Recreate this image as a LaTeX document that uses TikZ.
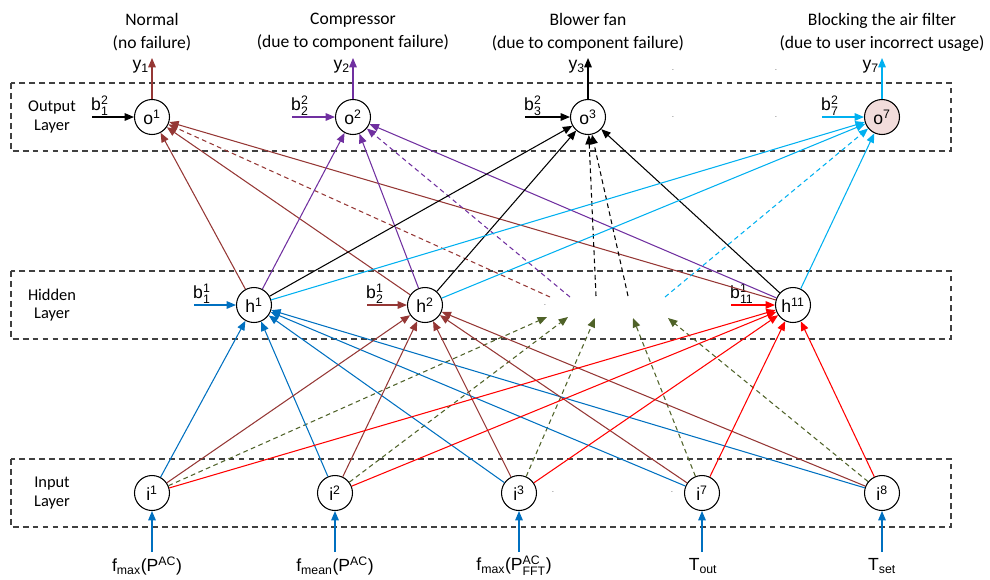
\documentclass[tikz,border=0pt]{standalone}
\usepackage{amsmath}
\usepackage{fontspec}
\setmainfont{Liberation Sans}
\newfontfamily\calibfont{Carlito}
\usetikzlibrary{arrows.meta}

\definecolor{inblue}{RGB}{0,112,192}
\definecolor{brn}{RGB}{149,55,53}
\definecolor{purp}{RGB}{112,48,160}
\definecolor{cyn}{RGB}{0,176,240}
\definecolor{dgreen}{RGB}{79,98,40}
\definecolor{pinkfill}{RGB}{242,220,219}

\begin{document}
\begin{tikzpicture}[x=0.03cm, y=-0.03cm,
  neuron/.style={draw, circle, line width=0.9pt, minimum size=1.05cm, inner sep=0pt, font=\fontsize{15}{18}\selectfont},
  layerbox/.style={draw=black!75, dash pattern=on 5pt off 3.5pt, line width=0.9pt},
  conn/.style={line width=0.9pt, -{Triangle[length=8pt,width=6.5pt]}},
  ghost/.style={conn, dash pattern=on 4pt off 3pt},
  lbl/.style={inner sep=0pt, font=\fontsize{15}{18}\selectfont},
  title/.style={align=center, inner sep=0pt, font=\calibfont\fontsize{15}{19.5}\selectfont},
  layertext/.style={align=center, inner sep=0pt, font=\calibfont\fontsize{14}{16}\selectfont},
  dotmark/.style={inner sep=0pt, text=black!60, font=\fontsize{7}{7}\selectfont}]
  \useasboundingbox (0,0) rectangle (990,579);

  \draw[layerbox] (11,83) rectangle (951,151);
  \draw[layerbox] (11,271) rectangle (951,339);
  \draw[layerbox] (11,459) rectangle (951,527);

  \node[layertext] (lout) at (52,117) {Output\\Layer};
  \node[layertext] (lhid) at (52,305) {Hidden\\Layer};
  \node[layertext] (lin) at (52,493) {Input\\Layer};

  \node[title] (t1) at (152,32) {Normal\\(no failure)};
  \node[title] (t2) at (353,32) {Compressor\\(due to component failure)};
  \node[title] (t3) at (588,32) {Blower fan\\(due to component failure)};
  \node[title] (t7) at (882,32) {Blocking the air filter\\(due to user incorrect usage)};

  \node[neuron] (o1) at (152,117) {o\textsuperscript{1}};
  \node[neuron] (o2) at (353,117) {o\textsuperscript{2}};
  \node[neuron] (o3) at (588,117) {o\textsuperscript{3}};
  \node[neuron, fill=pinkfill] (o7) at (882,117) {o\textsuperscript{7}};

  \node[neuron] (h1) at (254,305) {h\textsuperscript{1}};
  \node[neuron] (h2) at (425,305) {h\textsuperscript{2}};
  \node[neuron] (h11) at (793,305) {h\textsuperscript{11}};

  \node[neuron] (i1) at (152,493) {i\textsuperscript{1}};
  \node[neuron] (i2) at (335,493) {i\textsuperscript{2}};
  \node[neuron] (i3) at (519,493) {i\textsuperscript{3}};
  \node[neuron] (i7) at (702,493) {i\textsuperscript{7}};
  \node[neuron] (i8) at (882,493) {i\textsuperscript{8}};

  \node[dotmark] at (673,70) {.};
  \node[dotmark] at (776,70) {.};
  \node[dotmark] at (673,117) {.};
  \node[dotmark] at (776,117) {.};
  \node[dotmark] at (545,305) {.};
  \node[dotmark] at (553,492) {.};
  \node[dotmark] at (672,492) {.};

  % outputs
  \coordinate (y1) at (152,58);
  \coordinate (y2) at (353,58);
  \coordinate (y3) at (588,58);
  \coordinate (y7) at (882,58);
  \draw[conn, brn] (o1) -- (y1);
  \draw[conn, purp] (o2) -- (y2);
  \draw[conn] (o3) -- (y3);
  \draw[conn, cyn] (o7) -- (y7);
  \node[lbl, anchor=east] at (149,67) {y\textsubscript{1}};
  \node[lbl, anchor=east] at (350,67) {y\textsubscript{2}};
  \node[lbl, anchor=east] at (585,67) {y\textsubscript{3}};
  \node[lbl, anchor=east] at (879,67) {y\textsubscript{7}};

  % biases
  \coordinate (bo1) at (92,117);
  \coordinate (bo2) at (292,117);
  \coordinate (bo3) at (525,117);
  \coordinate (bo7) at (822,117);
  \coordinate (bh1) at (194,305);
  \coordinate (bh2) at (367,305);
  \coordinate (bh11) at (731,305);
  \draw[conn] (bo1) -- (o1);
  \draw[conn, purp] (bo2) -- (o2);
  \draw[conn] (bo3) -- (o3);
  \draw[conn, cyn] (bo7) -- (o7);
  \draw[conn, inblue] (bh1) -- (h1);
  \draw[conn, brn] (bh2) -- (h2);
  \draw[conn, red] (bh11) -- (h11);
  \node[lbl, anchor=west] at (91,106) {b$^{\text{2}}_{\text{1}}$};
  \node[lbl, anchor=west] at (291,106) {b$^{\text{2}}_{\text{2}}$};
  \node[lbl, anchor=west] at (524,106) {b$^{\text{2}}_{\text{3}}$};
  \node[lbl, anchor=west] at (821,106) {b$^{\text{2}}_{\text{7}}$};
  \node[lbl, anchor=west] at (193,294) {b$^{\text{1}}_{\text{1}}$};
  \node[lbl, anchor=west] at (366,294) {b$^{\text{1}}_{\text{2}}$};
  \node[lbl, anchor=west] at (730,294) {b$^{\text{1}}_{\text{11}}$};

  % inputs
  \node[lbl] (f1) at (147,566) {f\textsubscript{max}(P\textsuperscript{AC})};
  \node[lbl] (f2) at (335,566) {f\textsubscript{mean}(P\textsuperscript{AC})};
  \node[lbl] (f3) at (514,566) {f\textsubscript{max}(P$^{\text{AC}}_{\text{FFT}}$)};
  \node[lbl] (f7) at (703,566) {T\textsubscript{out}};
  \node[lbl] (f8) at (882,566) {T\textsubscript{set}};
  \draw[conn, inblue] (i1 |- 0,552) -- (i1);
  \draw[conn, inblue] (i2 |- 0,552) -- (i2);
  \draw[conn, inblue] (i3 |- 0,552) -- (i3);
  \draw[conn, inblue] (i7 |- 0,552) -- (i7);
  \draw[conn, inblue] (i8 |- 0,552) -- (i8);

  % input to hidden
  \coordinate (g1) at (547,317);
  \coordinate (g2) at (568,317);
  \coordinate (g3) at (595,318);
  \coordinate (g4) at (633,318);
  \coordinate (g5) at (668,318);
  \draw[ghost, dgreen] (i1) -- (g1);
  \draw[ghost, dgreen] (i2) -- (g2);
  \draw[ghost, dgreen] (i3) -- (g3);
  \draw[ghost, dgreen] (i7) -- (g4);
  \draw[ghost, dgreen] (i8) -- (g5);

  \draw[conn, inblue] (i1) -- (h1);
  \draw[conn, inblue] (i2) -- (h1);
  \draw[conn, inblue] (i3) -- (h1);
  \draw[conn, inblue] (i7) -- (h1);
  \draw[conn, inblue] (i8) -- (h1);

  \draw[conn, brn] (i1) -- (h2);
  \draw[conn, brn] (i2) -- (h2);
  \draw[conn, brn] (i3) -- (h2);
  \draw[conn, brn] (i7) -- (h2);
  \draw[conn, brn] (i8) -- (h2);

  \draw[conn, red] (i1) -- (h11);
  \draw[conn, red] (i2) -- (h11);
  \draw[conn, red] (i3) -- (h11);
  \draw[conn, red] (i7) -- (h11);
  \draw[conn, red] (i8) -- (h11);

  % hidden to output
  \coordinate (d1) at (550,297);
  \coordinate (d2) at (570,297);
  \coordinate (d3) at (596,296);
  \coordinate (d4) at (628,296);
  \coordinate (d5) at (665,297);

  \draw[conn, brn] (h1) -- (o1);
  \draw[conn, brn] (h2) -- (o1);
  \draw[conn, brn] (h11) -- (o1);
  \draw[ghost, brn] (d1) -- (o1);

  \draw[conn, purp] (h1) -- (o2);
  \draw[conn, purp] (h2) -- (o2);
  \draw[conn, purp] (h11) -- (o2);
  \draw[ghost, purp] (d2) -- (o2);

  \draw[conn] (h1) -- (o3);
  \draw[conn] (h2) -- (o3);
  \draw[conn] (h11) -- (o3);
  \draw[ghost] (d3) -- (o3);
  \draw[ghost] (d4) -- (o3);

  \draw[conn, cyn] (h1) -- (o7);
  \draw[conn, cyn] (h2) -- (o7);
  \draw[conn, cyn] (h11) -- (o7);
  \draw[ghost, cyn] (d5) -- (o7);
\end{tikzpicture}
\end{document}
